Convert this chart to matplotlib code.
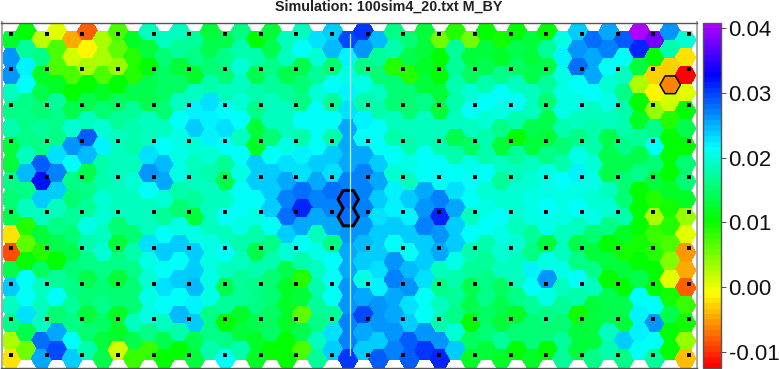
import colorsys
import numpy as np
import matplotlib
matplotlib.use("Agg")
import matplotlib.pyplot as plt
from matplotlib.collections import PolyCollection
from matplotlib.colors import ListedColormap, Normalize
from matplotlib.cm import ScalarMappable

plt.rcParams['font.family'] = ['Liberation Sans', 'DejaVu Sans']

# hexagon values per row, in units of 0.001, left to right
# (even columns sit half a cell lower than odd columns)
r00 = [12,10.5,2,0,-5,-8,3,7,12,19,18.5,18.5,17,12.5,14, 16,10.5,13,18.5,19,23,23.5,29.5,30,24.5,16,15,12.5,5.5,9, 5,10.5,9.5,10.5,12.5,10,20,24,28,25,28.5,40,37.5,26,19.5]
r01 = [26,17,16,7,1.5,-1,3,6.5,9,13,15,17,16,14,16, 18,18,14,19,21,19.5,24.5,22,26.5,17,18,13.5,13,10.5,17, 13,13,12,14,13,17,22,26,25,27,21,31,10,17.5,-2.5]
r02 = [26,22,12,7,7,3,7,4,9,10.5,14.5,12.5,12,15,15.5, 19.5,14,16,13.5,13.5,17,15,20.5,16,15,9,9,12,10,17, 14.5,14,16,14.5,14,13.5,20,28,25,21,18.5,13,-3,-3,-12]
r03 = [18.5,21.5,14,12,10,10,12,10,13.5,14,14.5,14.5,19,17.5,19, 19,18,17,17,15.5,19.5,21,22,20.5,18.5,15,15,12.5,13,18, 19.5,17.5,21,18.5,18.5,17,20,21.5,21,19.5,16,3,-1,-6,0.5]
r04 = [16,16,15,17,14,13.5,15,14.5,17,14,15,19,22,23,21, 19.5,16.5,18.5,18.5,16.5,21,17,22.5,17.5,18,15,15,16,12.5,18, 21,21,20,21,18.5,15,20,20.5,19,20,18,10.5,4,1.5,10]
r05 = [17.5,16.5,17,16,19.5,18.5,19.5,17,17.5,18.5,18.5,21,24,22,22.5, 21,13,19,18.5,21,21,21.5,25,22,21,19,18.5,18.5,18.5,18.5, 19,19.5,16.5,18,14,14,17.5,18.5,18,18.5,18,12,16,8.5,14]
r06 = [12.5,16,16,16.5,26,28.5,22,18.5,17.5,18.5,21.5,20.5,19.5,22,21, 18.5,12,15,20,18,21,17.5,25,21.5,21,18,17.5,18.5,17.5,14, 14.5,17.5,12.5,10.5,12.5,12.5,15,16,18,14,16.5,17,21,10.5,10.5]
r07 = [12.5,18.5,28.5,23,21.5,24.5,17.5,19,18.5,22.5,24.5,20,18.5,19.5,17, 21,23.5,21,23,22,23.5,24,25.5,25,24,21,20.5,21.5,21,18, 20,18,19,17,18.5,16,18,20,19.5,13.5,14,14,15,10,15]
r08 = [16.5,24.5,32,27,16,13.5,17.5,18.5,19.5,26,25,20.5,18.5,17.5,14, 20,24,24,25,23,25.5,23,27,27,25,19.5,18.5,21,21,21.5, 21,21,17,18.5,19.5,20.5,21,22,20,14,15,16,13,10.5,15]
r09 = [15,16,23.5,24,15,16,19.5,19,18.5,21,19.5,17.5,17,18.5,18.5, 21,21,24,27,27.5,27,27.5,28.5,27,24,22,24,25,27,23, 21,19.5,19.5,19.5,20.5,20,20.5,20.5,19.5,18.5,15,10.5,8.5,12,12]
r10 = [13.5,18.5,18.5,18.5,17,17,19.5,18.5,18.5,18.5,17,15,13,18.5,21, 21,20,24,27.5,31,25,27,28,27,23,22,22,26.5,31,25, 18.5,20,21,19.5,20,21,20.5,21.5,20,19.5,17.5,10.5,3,9.5,4]
r11 = [-2.5,8.5,12.5,16,15.5,20,19,15,15,19,21.5,20,20.5,18.5,19, 20,17.5,21,24,25,19,25,26,26,23.5,23.5,24,27,26,24, 21,21,20,19,17,20,19,18.5,15,16.5,12,10,8,9,0.5]
r12 = [-8.5,6,9,13.5,13.5,18,19.5,13,17.5,23,24,23.5,24,20.5,21, 17.5,13.5,16,19.5,21,20,16,25,24.5,24,21.5,21.5,24,25,24, 17.5,18,19.5,19.5,16,13,18.5,13.5,13,10.5,9.5,9.5,9,7,-5.5]
r13 = [14,10,14.5,10,15.5,16.5,16,16,16,20.5,21.5,21,23.5,20,19, 18.5,17.5,18,14,18,18.5,21,25.5,23.5,22.5,26,24.5,23.5,18.5,20, 17,17,18.5,19,22,20,20,16.5,16.5,12.5,12.5,10.5,10.5,4.5,-5]
r14 = [23.5,21,18.5,17,16.5,14,15,12.5,15.5,19.5,22.5,24,24.5,20,14, 17,16.5,15,12,8.5,17.5,21,26,20.5,22,27,26,23,16.5,17.5, 14,16.5,14.5,19,21,26,19,21,18.5,10.5,10.5,14,10.5,0.5,-8]
r15 = [18.5,21,18.5,21,17,15,16,15,15,20,21.5,21,22,20,17, 17,16,15.5,12,13,17,21,26,25,26,25.5,22.5,21,18.5,17, 13.5,16,14,16,17,20,17,17.5,13,14,13.5,21,21,9.5,8]
r16 = [16.5,22.5,18.5,15.5,16.5,12.5,14.5,12,18.5,20,19,24.5,24,16.5,10.5, 12,14,14.5,12,6.5,16,17,27,29.5,26,25,23.5,21.5,17.5,16.5, 10.5,14.5,12.5,12,15.5,16,15.5,9.5,12.5,13.5,13,22,26,14,9.5]
r17 = [3,14,27.5,25,21,15,12.5,12,13.5,16.5,14,17.5,14,16.5,16.5, 13,12,14.5,10,14,18.5,23,27,25,24,26,28.5,26,26,19.5, 14.5,15,17,15,15.5,15,17,13,13,18.5,23.5,22,21,10.5,4]
r18 = [-2,5,25,29.5,24,18,14,1.5,8,8,10.5,10.5,12.5,18,21, 18,12,10.5,10.5,7,17,24,30,24,28.5,27,29,30,31.5,23.5, 12,12.5,12,10.5,12,10.5,17,12.5,16.5,17.5,16.5,21,17,10.5,-4]
rows = [r00, r01, r02, r03, r04, r05, r06, r07, r08, r09, r10, r11, r12, r13, r14, r15, r16, r17, r18]

# black reference dots
dot_x = [11, 47, 82, 118, 154, 189, 225, 261, 296, 332, 368, 403, 439, 475, 511, 546, 582, 618, 653, 689]
dot_y = [34, 69, 105, 141, 177, 212, 248, 284, 319, 355]

tick_values = [-0.01, 0.00, 0.01, 0.02, 0.03, 0.04]
tick_labels = ['-0.01', '0.00', '0.01', '0.02', '0.03', '0.04']
vmin, vmax = -0.0125, 0.0408
title = 'Simulation: 100sim4_20.txt M_BY'

W, H = 779, 369
PX = 72 / 100.0  # one pixel in points

# rainbow from red to purple, in bands like the original
cmap = ListedColormap([colorsys.hsv_to_rgb(h, 1, 1) for h in np.linspace(0, 0.78, 64)])
norm = Normalize(vmin, vmax)


def box(fig, left, top, right, bottom):
    return fig.add_axes([left / W, 1 - bottom / H, (right - left) / W, (bottom - top) / H])


def hexagon(cx, cy, a):
    return [(cx + a * np.cos(t), cy + a * np.sin(t)) for t in np.radians(np.arange(0, 360, 60))]


fig = plt.figure(figsize=(W / 100, H / 100), dpi=100)

# main map, axes units are pixels
ax = box(fig, 1.5, 22.5, 697, 368)
ax.set_xlim(1.5, 697)
ax.set_ylim(368, 22.5)
ax.set_xticks([])
ax.set_yticks([])

A = 10.22
DX = 15.33
DY = 17.7


def centre(col, row):
    return 11 + DX * col, (40 if col % 2 == 0 else 31.7) + DY * row


polys, vals = [], []
for row, values in enumerate(rows):
    for col, v in enumerate(values):
        polys.append(hexagon(*centre(col, row), A))
        vals.append(v / 1000.0)
cells = PolyCollection(polys, array=np.array(vals), cmap=cmap, norm=norm,
                       edgecolors='none', antialiaseds=False)
ax.add_collection(cells)

# outlined cells: one on its own, and two neighbours outlined as a single shape
single = hexagon(*centre(43, 3), A)
upper = hexagon(*centre(22, 9), A)
lower = hexagon(*centre(22, 10), A)
pair = [upper[3], upper[4], upper[5], upper[0], upper[1],
        lower[0], lower[1], lower[2], lower[3], lower[4]]
ax.add_collection(PolyCollection([single], facecolors='none', edgecolors='black',
                                 linewidths=1.5 * PX, zorder=3))
ax.add_collection(PolyCollection([pair], facecolors='none', edgecolors='black',
                                 linewidths=3 * PX, zorder=3))

ax.plot([350.3, 350.3], [dot_y[0], dot_y[-1]], color='white', alpha=0.8, lw=1.3 * PX, zorder=4)

dx, dy = np.meshgrid(dot_x, dot_y)
ax.scatter(dx.ravel(), dy.ravel(), marker='s', s=(4 * PX) ** 2, c='black', linewidths=0, zorder=5)

for name, spine in ax.spines.items():
    spine.set_color('#555555' if name in ('top', 'bottom') else '#aaaaaa')
    spine.set_linewidth(1.0 if name in ('top', 'bottom') else 1.5)

fig.text(389 / W, 1 - 6.5 / H, title, ha='center', va='center', fontsize=10.3, fontweight='bold', color='#222222')

# colour bar
cax = box(fig, 703, 23, 720.5, 368)
cb = fig.colorbar(ScalarMappable(norm=norm, cmap=cmap), cax=cax, ticks=tick_values)
cb.ax.set_yticklabels(tick_labels)
cb.ax.tick_params(length=4.5 * PX, width=1 * PX, color='#555555', pad=2.6, labelsize=16, labelcolor='#111111')
cb.outline.set_edgecolor('#555555')
cb.outline.set_linewidth(1.0)

fig.savefig('out.png', dpi=100)
